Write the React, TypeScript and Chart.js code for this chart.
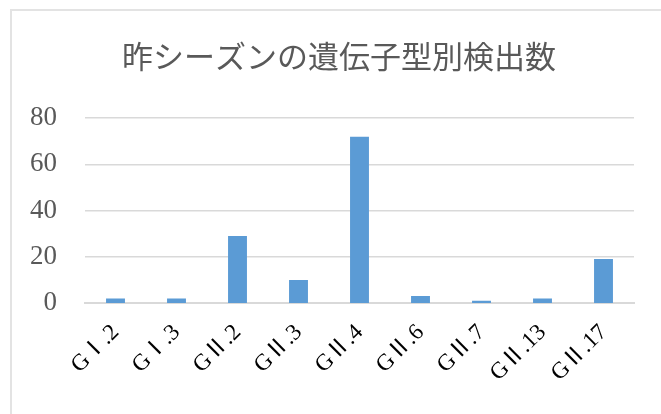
import React, { useEffect, useRef } from "react";
import { Chart, registerables } from "chart.js";

Chart.register(...registerables);

const titleText = "昨シーズンの遺伝子型別検出数";
const categories = ["GⅠ.2", "GⅠ.3", "GⅡ.2", "GⅡ.3", "GⅡ.4", "GⅡ.6", "GⅡ.7", "GⅡ.13", "GⅡ.17"];
const counts = [2, 2, 29, 10, 72, 3, 1, 2, 19];
const yTicks = [0, 20, 40, 60, 80];

const SERIF = "'Liberation Serif', 'Noto Sans CJK JP', serif";

export default function App() {
  const ref = useRef<HTMLCanvasElement | null>(null);

  useEffect(() => {
    if (!ref.current) return;
    const chart = new Chart(ref.current, {
      type: "bar",
      data: {
        labels: categories,
        datasets: [
          {
            data: counts,
            backgroundColor: "#5b9bd5",
            borderColor: "#5b9bd5",
            borderWidth: 0,
            categoryPercentage: 1,
            barPercentage: 0.31,
          },
        ],
      },
      options: {
        animation: false,
        responsive: false,
        maintainAspectRatio: false,
        layout: { padding: { left: 17, right: 0, top: 0, bottom: 0 } },
        plugins: {
          legend: { display: false },
          tooltip: { enabled: false },
          title: {
            display: true,
            text: titleText,
            color: "#595959",
            font: { family: "'Noto Sans CJK JP', sans-serif", size: 31, weight: "normal", lineHeight: 1.2 },
            padding: { top: 38, bottom: 43 },
          },
        },
        scales: {
          x: {
            grid: { display: false, drawTicks: false },
            border: { display: true, color: "#d9d9d9", width: 2 },
            ticks: {
              color: "#000000",
              font: { family: SERIF, size: 23 },
              minRotation: 45,
              maxRotation: 45,
              autoSkip: false,
              padding: 16,
            },
            afterFit: (scale: any) => {
              scale.height = 111;
            },
          },
          y: {
            min: 0,
            max: 80,
            afterBuildTicks: (scale: any) => {
              scale.ticks = yTicks.map((v) => ({ value: v }));
            },
            grid: {
              color: "#d9d9d9",
              lineWidth: (ctx: any) => (ctx.tick && ctx.tick.value === 0 ? 0 : 1.5),
              drawTicks: false,
            },
            border: { display: false },
            ticks: {
              color: "#595959",
              font: { family: SERIF, size: 27 },
              padding: 28,
            },
            afterFit: (scale: any) => {
              scale.width = 68;
            },
          },
          yRight: {
            type: "linear",
            position: "right",
            display: true,
            min: 0,
            max: 80,
            grid: { display: false, drawTicks: false },
            border: { display: false },
            ticks: { display: false },
            afterFit: (scale: any) => {
              scale.width = 27;
            },
          },
        },
      },
    });
    return () => chart.destroy();
  }, []);

  return (
    <div style={{ position: "fixed", left: 0, top: 0, width: 661, height: 414, background: "#ffffff", overflow: "hidden" }}>
      <div
        style={{
          position: "absolute",
          left: 10,
          top: 9,
          width: 700,
          height: 450,
          border: "2px solid #e3e3e3",
          boxSizing: "border-box",
        }}
      />
      <canvas ref={ref} width={661} height={414} style={{ position: "absolute", left: 0, top: 0 }} />
    </div>
  );
}
